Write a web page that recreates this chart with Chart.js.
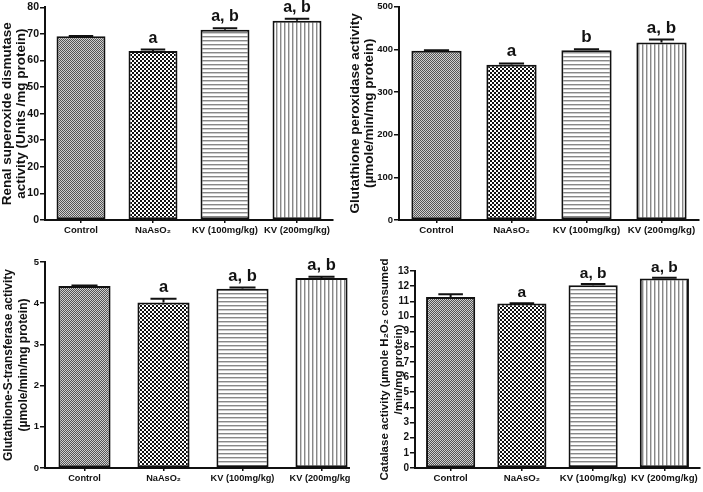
<!DOCTYPE html>
<html><head><meta charset="utf-8">
<script src="https://cdn.jsdelivr.net/npm/chart.js@4.4.1/dist/chart.umd.min.js"></script>
<style>
html,body{margin:0;padding:0;background:#fff;}
body{width:703px;height:492px;position:relative;overflow:hidden;}
.p{position:absolute;overflow:hidden;}
canvas{display:block;}
</style></head><body>
<div class="p" style="left:0;top:0;width:350px;height:245px"><canvas id="c1" width="350" height="245"></canvas></div>
<div class="p" style="left:350px;top:0;width:353px;height:245px"><canvas id="c2" width="353" height="245"></canvas></div>
<div class="p" style="left:0;top:245px;width:350px;height:247px"><canvas id="c3" width="368" height="247"></canvas></div>
<div class="p" style="left:350px;top:245px;width:353px;height:247px"><canvas id="c4" width="353" height="247"></canvas></div>
<script>
// ---- data ----
const categories = ['Control', 'NaAsO\u2082', 'KV (100mg/kg)', 'KV (200mg/kg)'];

const sodValues  = [69.1, 63.6, 71.6, 74.9];
const sodErrors  = [0.15, 0.5, 0.5, 0.8];
const sodLetters = ['', 'a', 'a, b', 'a, b'];
const sodAxis    = [0, 80, 10];        // min, max, step
const sodTitle   = ['Renal superoxide dismutase', 'activity (Units /mg protein)'];

const gpxValues  = [397, 364, 398, 416];
const gpxErrors  = [1, 3, 2, 7];
const gpxLetters = ['', 'a', 'b', 'a, b'];
const gpxAxis    = [0, 500, 100];
const gpxTitle   = ['Glutathione peroxidase activity', '(\u00B5mole/min/mg protein)'];

const gstValues  = [4.42, 4.02, 4.35, 4.61];
const gstErrors  = [0.01, 0.09, 0.03, 0.03];
const gstLetters = ['', 'a', 'a, b', 'a, b'];
const gstAxis    = [0, 5, 1];
const gstTitle   = ['Glutathione-S-transferase activity', '(\u00B5mole/min/mg protein)'];

const catValues  = [11.29, 10.85, 12.06, 12.5];
const catErrors  = [0.18, 0.03, 0.08, 0.05];
const catLetters = ['', 'a', 'a, b', 'a, b'];
const catAxis    = [0, 13, 1];
const catTitle   = ['Catalase activity (\u00B5mole H\u2082O\u2082 consumed', '/min/mg protein)'];

// ---- patterns ----
function pattern(w, h, painter) {
  const c = document.createElement('canvas');
  c.width = w; c.height = h;
  const g = c.getContext('2d');
  g.fillStyle = '#fff'; g.fillRect(0, 0, w, h);
  painter(g);
  return document.createElement('canvas').getContext('2d').createPattern(c, 'repeat');
}
function fills() {
  return [
    pattern(2, 2, g => { g.fillStyle = '#555'; g.fillRect(0,0,1,1); g.fillRect(1,1,1,1); g.fillStyle = '#d0d0d0'; g.fillRect(1,0,1,1); g.fillRect(0,1,1,1); }),
    pattern(4, 4, g => { g.fillStyle = '#111'; g.fillRect(0,0,2,2); g.fillRect(2,2,2,2); }),
    pattern(4, 4, g => { g.fillStyle = '#888'; g.fillRect(0,0,4,1); g.fillStyle = '#ccc'; g.fillRect(0,1,4,1); }),
    pattern(4, 4, g => { g.fillStyle = '#888'; g.fillRect(0,0,1,4); g.fillStyle = '#ccc'; g.fillRect(1,0,1,4); })
  ];
}

// ---- error bars + significance letters ----
const errPlugin = {
  id: 'errbars',
  afterDatasetsDraw(chart, args, opts) {
    const meta = chart.getDatasetMeta(0);
    const ys = chart.scales.y;
    const ctx = chart.ctx;
    const vals = chart.data.datasets[0].data;
    ctx.save();
    ctx.strokeStyle = '#111';
    ctx.lineWidth = 2;
    meta.data.forEach((bar, i) => {
      const top = ys.getPixelForValue(vals[i] + opts.errors[i]);
      const half = bar.width * 0.25;
      ctx.beginPath();
      ctx.moveTo(bar.x, bar.y); ctx.lineTo(bar.x, top);
      ctx.moveTo(bar.x - half, top); ctx.lineTo(bar.x + half, top);
      ctx.stroke();
      if (opts.letters[i]) {
        ctx.font = opts.font;
        ctx.fillStyle = '#111';
        ctx.textAlign = 'center';
        ctx.textBaseline = 'alphabetic';
        ctx.fillText(opts.letters[i], bar.x, top - opts.gap);
      }
    });
    ctx.restore();
  }
};

const FAM = '"Liberation Sans", Arial, sans-serif';

function makeChart(id, area, s) {
  const cv = document.getElementById(id);
  const W = cv.width, H = cv.height;
  return new Chart(cv, {
    type: 'bar',
    data: {
      labels: categories,
      datasets: [{
        data: s.values,
        backgroundColor: fills(),
        borderColor: '#111',
        borderWidth: 2,
        borderSkipped: false,
        barPercentage: s.barPct,
        categoryPercentage: 1
      }]
    },
    options: {
      responsive: false,
      animation: false,
      events: [],
      layout: { padding: { left: 0, top: area.top, right: W - area.right, bottom: 0 } },
      plugins: {
        legend: { display: false },
        tooltip: { enabled: false },
        errbars: { errors: s.errors, letters: s.letters, font: 'bold ' + s.letterSize + 'px ' + FAM, gap: s.gap }
      },
      scales: {
        x: {
          afterFit: sc => { sc.height = H - area.bottom; },
          grid: { drawOnChartArea: false, offset: false, tickLength: 3, color: '#111', lineWidth: 1.5 },
          border: { display: true, color: '#111', width: 2 },
          ticks: { color: '#111', font: { family: FAM, size: s.xFont, weight: 'bold' }, padding: 2, maxRotation: 0, autoSkip: false }
        },
        y: {
          min: s.axis[0], max: s.axis[1],
          afterFit: sc => { sc.width = area.left; },
          grid: { drawOnChartArea: false, tickLength: 5, color: '#111', lineWidth: 1.5 },
          border: { display: true, color: '#111', width: 2 },
          ticks: { stepSize: s.axis[2], color: '#111', font: { family: FAM, size: s.yFont, weight: 'bold' }, padding: 1 },
          title: {
            display: true, text: s.title, color: '#111',
            font: { family: FAM, size: s.titleSize, weight: 'bold', lineHeight: s.titleLH },
            padding: { top: s.titlePad, bottom: 0 }
          }
        }
      }
    },
    plugins: [errPlugin]
  });
}

makeChart('c1', { left: 45, top: 7, right: 333, bottom: 220 }, {
  values: sodValues, errors: sodErrors, letters: sodLetters, axis: sodAxis, title: sodTitle,
  barPct: 0.68, letterSize: 16, gap: 7, xFont: 9.5, yFont: 10.5, titleSize: 13.5, titleLH: 1.05, titlePad: 0
});
makeChart('c2', { left: 49, top: 5, right: 349, bottom: 220 }, {
  values: gpxValues, errors: gpxErrors, letters: gpxLetters, axis: gpxAxis, title: gpxTitle,
  barPct: 0.67, letterSize: 17, gap: 7, xFont: 9.7, yFont: 9.5, titleSize: 13.5, titleLH: 1.05, titlePad: -2
});
makeChart('c3', { left: 45, top: 17, right: 361, bottom: 223 }, {
  values: gstValues, errors: gstErrors, letters: gstLetters, axis: gstAxis, title: gstTitle,
  barPct: 0.66, letterSize: 16.5, gap: 7, xFont: 9.2, yFont: 9.5, titleSize: 12, titleLH: 1.25, titlePad: 1
});
makeChart('c4', { left: 65, top: 26, right: 350, bottom: 223 }, {
  values: catValues, errors: catErrors, letters: catLetters, axis: catAxis, title: catTitle,
  barPct: 0.69, letterSize: 15.5, gap: 6, xFont: 9.6, yFont: 10, titleSize: 11.5, titleLH: 1.2, titlePad: 28
});
</script>
</body></html>
